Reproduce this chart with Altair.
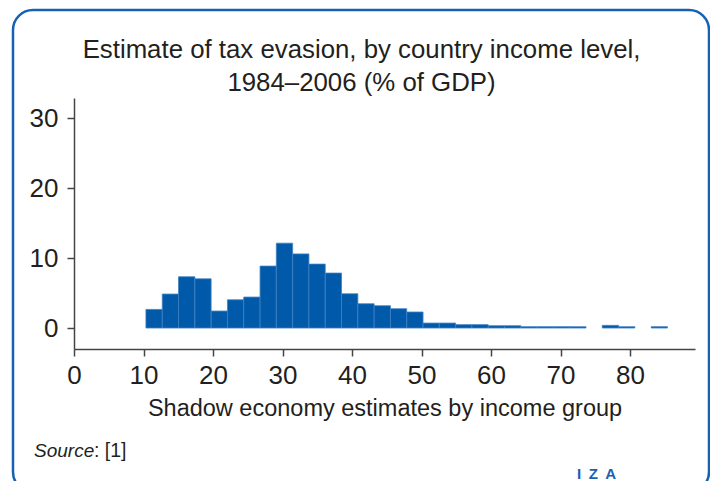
import altair as alt
import pandas as pd

# histogram bins (left edges) and heights
bin_lo = [10.35, 12.70, 15.04, 17.39, 19.73, 22.08, 24.42, 26.77, 29.11, 31.46,
          33.80, 36.15, 38.49, 40.84, 43.18, 45.53, 47.87, 50.22, 52.56, 54.91,
          57.25, 59.60, 61.94, 64.29, 66.63, 68.98, 71.32, 73.67, 76.01, 78.36,
          80.70, 83.05]
bin_hi = bin_lo[1:] + [85.39]
share = [2.66, 4.86, 7.33, 7.04, 2.43, 4.04, 4.43, 8.86, 12.14, 10.60,
         9.14, 7.86, 4.90, 3.47, 3.19, 2.76, 2.29, 0.71, 0.71, 0.48,
         0.48, 0.33, 0.33, 0.19, 0.19, 0.19, 0.19, 0.00, 0.38, 0.19,
         0.00, 0.19]

x_ticks = [0, 10, 20, 30, 40, 50, 60, 70, 80]
y_ticks = [0, 10, 20, 30]

title_lines = ["Estimate of tax evasion, by country income level,", "1984\u20132006 (% of GDP)"]
x_title = "Shadow economy estimates by income group"

df = pd.DataFrame({"lo": bin_lo, "hi": bin_hi, "v": share})
df["base"] = 0.0

FONT = "Liberation Sans"
TXT = "#231f20"
BLUE = "#005aa9"

W, H = 621, 251
L, T = 66, 90
OX, OY = L + 8, T + 8  # page position of plot origin


def px(x):
    return alt.value(x - OX)


def py(y):
    return alt.value(y - OY)


bars = alt.Chart(df).transform_filter("datum.v > 0").mark_rect(
    color=BLUE, stroke="#3f80c4", strokeWidth=0.8
).encode(
    x=alt.X("lo:Q", scale=alt.Scale(domain=[0, 89.35], nice=False, zero=False),
            axis=alt.Axis(values=x_ticks, title=x_title, format="d", labelFlush=False)),
    x2="hi:Q",
    y=alt.Y("v:Q", scale=alt.Scale(domain=[-3, 32.9], nice=False, zero=False),
            axis=alt.Axis(values=y_ticks, title=None, format="d")),
    y2="base:Q",
)

frame = alt.Chart(pd.DataFrame({"k": [0]})).mark_rect(
    fillOpacity=0, stroke="#1762b0", strokeWidth=2.5, cornerRadius=20
).encode(x=px(13), x2=px(709), y=py(10), y2=py(492))

title = alt.Chart(pd.DataFrame({"t": title_lines, "yy": [57.7 - OY, 91 - OY]})).mark_text(
    font=FONT, fontSize=25.8, color=TXT, align="center", baseline="alphabetic"
).encode(text="t:N", x=px(361.5), y=alt.Y("yy:Q", scale=None))

src1 = alt.Chart(pd.DataFrame({"t": ["Source"]})).mark_text(
    font=FONT, fontSize=19, fontStyle="italic", color=TXT, align="left", baseline="alphabetic"
).encode(text="t:N", x=px(34), y=py(457))

src2 = alt.Chart(pd.DataFrame({"t": [": [1]"]})).mark_text(
    font=FONT, fontSize=19.5, color=TXT, align="left", baseline="alphabetic"
).encode(text="t:N", x=px(94), y=py(457))

iza = alt.Chart(pd.DataFrame({"t": ["I\u2002Z\u2002A"]})).mark_text(
    font=FONT, fontSize=15, fontWeight="bold", color="#1762b0", align="left", baseline="alphabetic"
).encode(text="t:N", x=px(577), y=py(479))

chart = alt.layer(frame, bars, title, src1, src2, iza).properties(
    width=W, height=H,
    padding={"left": L, "top": T, "right": 702 - L - W, "bottom": 473 - T - H},
    autosize=alt.AutoSizeParams(type="none"),
).configure_view(stroke=None).configure_axis(
    grid=False, domainColor="#444444", domainWidth=1.5, tickColor="#444444", tickWidth=1.5,
    tickSize=7, labelFont=FONT, labelFontSize=26, labelColor=TXT,
    titleFont=FONT, titleFontSize=23.5, titleFontWeight="normal", titleColor=TXT,
).configure_axisX(labelPadding=6, titlePadding=8).configure_axisY(labelPadding=9)

chart.save("out.html", embed_options={"renderer": "svg", "actions": False})
